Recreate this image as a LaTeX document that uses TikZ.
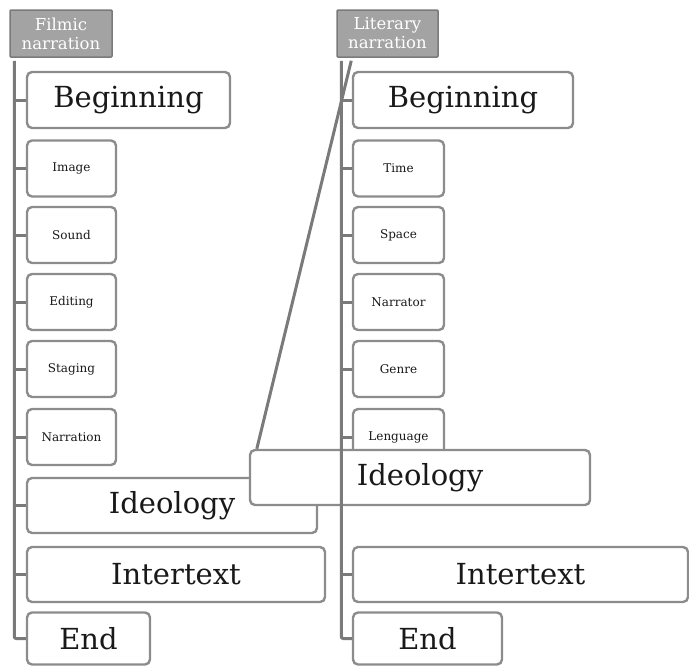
\documentclass[tikz,border=0pt]{standalone}
\usepackage{fontspec}
\setmainfont{DejaVu Serif}
\usetikzlibrary{positioning, calc}

\definecolor{frameGray}{HTML}{8C8C8C}
\definecolor{trunkGray}{HTML}{7A7A7A}
\definecolor{headGray}{HTML}{A3A3A3}

\begin{document}
\begin{tikzpicture}[
    x=1pt, y=-1pt,
    box/.style={draw=frameGray, line width=2.4pt, rounded corners=5pt, fill=white,
                align=center, inner sep=0pt, text=black!90},
    big/.style={box, font=\fontsize{29}{31}\selectfont},
    small/.style={box, font=\fontsize{12}{14}\selectfont, minimum height=56pt},
    head/.style={draw=trunkGray, fill=headGray, line width=1.5pt, rounded corners=1pt,
                 align=center, text=white, font=\fontsize{16.5}{19}\selectfont,
                 inner sep=0pt, minimum height=47pt},
    trunk/.style={draw=trunkGray, line width=3pt, rounded corners=2pt},
    tick/.style={draw=trunkGray, line width=3pt},
]
\useasboundingbox (0,0) rectangle (689,667);

% ---- Filmic narration ----
\node[head, minimum width=102pt] (ftitle) at (61, 33.5) {Filmic\\narration};

\node[big, minimum width=203pt, minimum height=56pt] (fbeg) at (128.5, 100) {Beginning};
\node[small, minimum width=89pt] (fimg) at (71.5, 168.5) {Image};
\node[small, minimum width=89pt] (fsnd) at (71.5, 235) {Sound};
\node[small, minimum width=89pt] (fedit) at (71.5, 302) {Editing};
\node[small, minimum width=89pt] (fstag) at (71.5, 369) {Staging};
\node[small, minimum width=89pt] (fnarr) at (71.5, 437) {Narration};
\node[big, minimum width=290pt, minimum height=55pt] (fideo) at (172, 505.5) {Ideology};
\node[big, minimum width=298pt, minimum height=55pt] (finter) at (176, 574.5) {Intertext};
\node[big, minimum width=123pt, minimum height=52pt] (fend) at (88.5, 638.5) {End};

\coordinate (ftrunk) at ($(ftitle.south west)+(5,3)$);
\draw[trunk] (ftrunk) |- (fend.west);
\foreach \n in {fbeg, fimg, fsnd, fedit, fstag, fnarr, fideo, finter}
    \draw[tick] (ftrunk |- \n.west) -- (\n.west);

% ---- Literary narration ----
\node[head, minimum width=101pt] (ltitle) at (387.5, 33.5) {Literary\\narration};

\node[big, minimum width=220pt, minimum height=56pt] (lbeg) at (463, 100) {Beginning};
\node[small, minimum width=91pt] (ltime) at (398.5, 168.5) {Time};
\node[small, minimum width=91pt] (lspace) at (398.5, 235) {Space};
\node[small, minimum width=91pt] (lnarr) at (398.5, 302) {Narrator};
\node[small, minimum width=91pt] (lgenre) at (398.5, 369) {Genre};
\node[small, minimum width=91pt] (llang) at (398.5, 437) {Lenguage};

% misplaced ideology box, lies over the filmic one
\node[big, minimum width=340pt, minimum height=55pt] (lideo) at (420, 477.5) {Ideology};

\node[big, minimum width=335pt, minimum height=55pt] (linter) at (520.5, 574.5) {Intertext};
\node[big, minimum width=149pt, minimum height=52pt] (lend) at (427.5, 638.5) {End};

\coordinate (ltrunk) at ($(ltitle.south west)+(5,3)$);
\coordinate (lslant) at ($(ltitle.south west)+(15,3)$);
\draw[tick] (lslant) -- ($(lideo.north west)+(8,0)$);
\draw[trunk] (ltrunk) |- (lend.west);
\foreach \n in {lbeg, ltime, lspace, lnarr, lgenre, llang, linter}
    \draw[tick] (ltrunk |- \n.west) -- (\n.west);

\end{tikzpicture}
\end{document}
